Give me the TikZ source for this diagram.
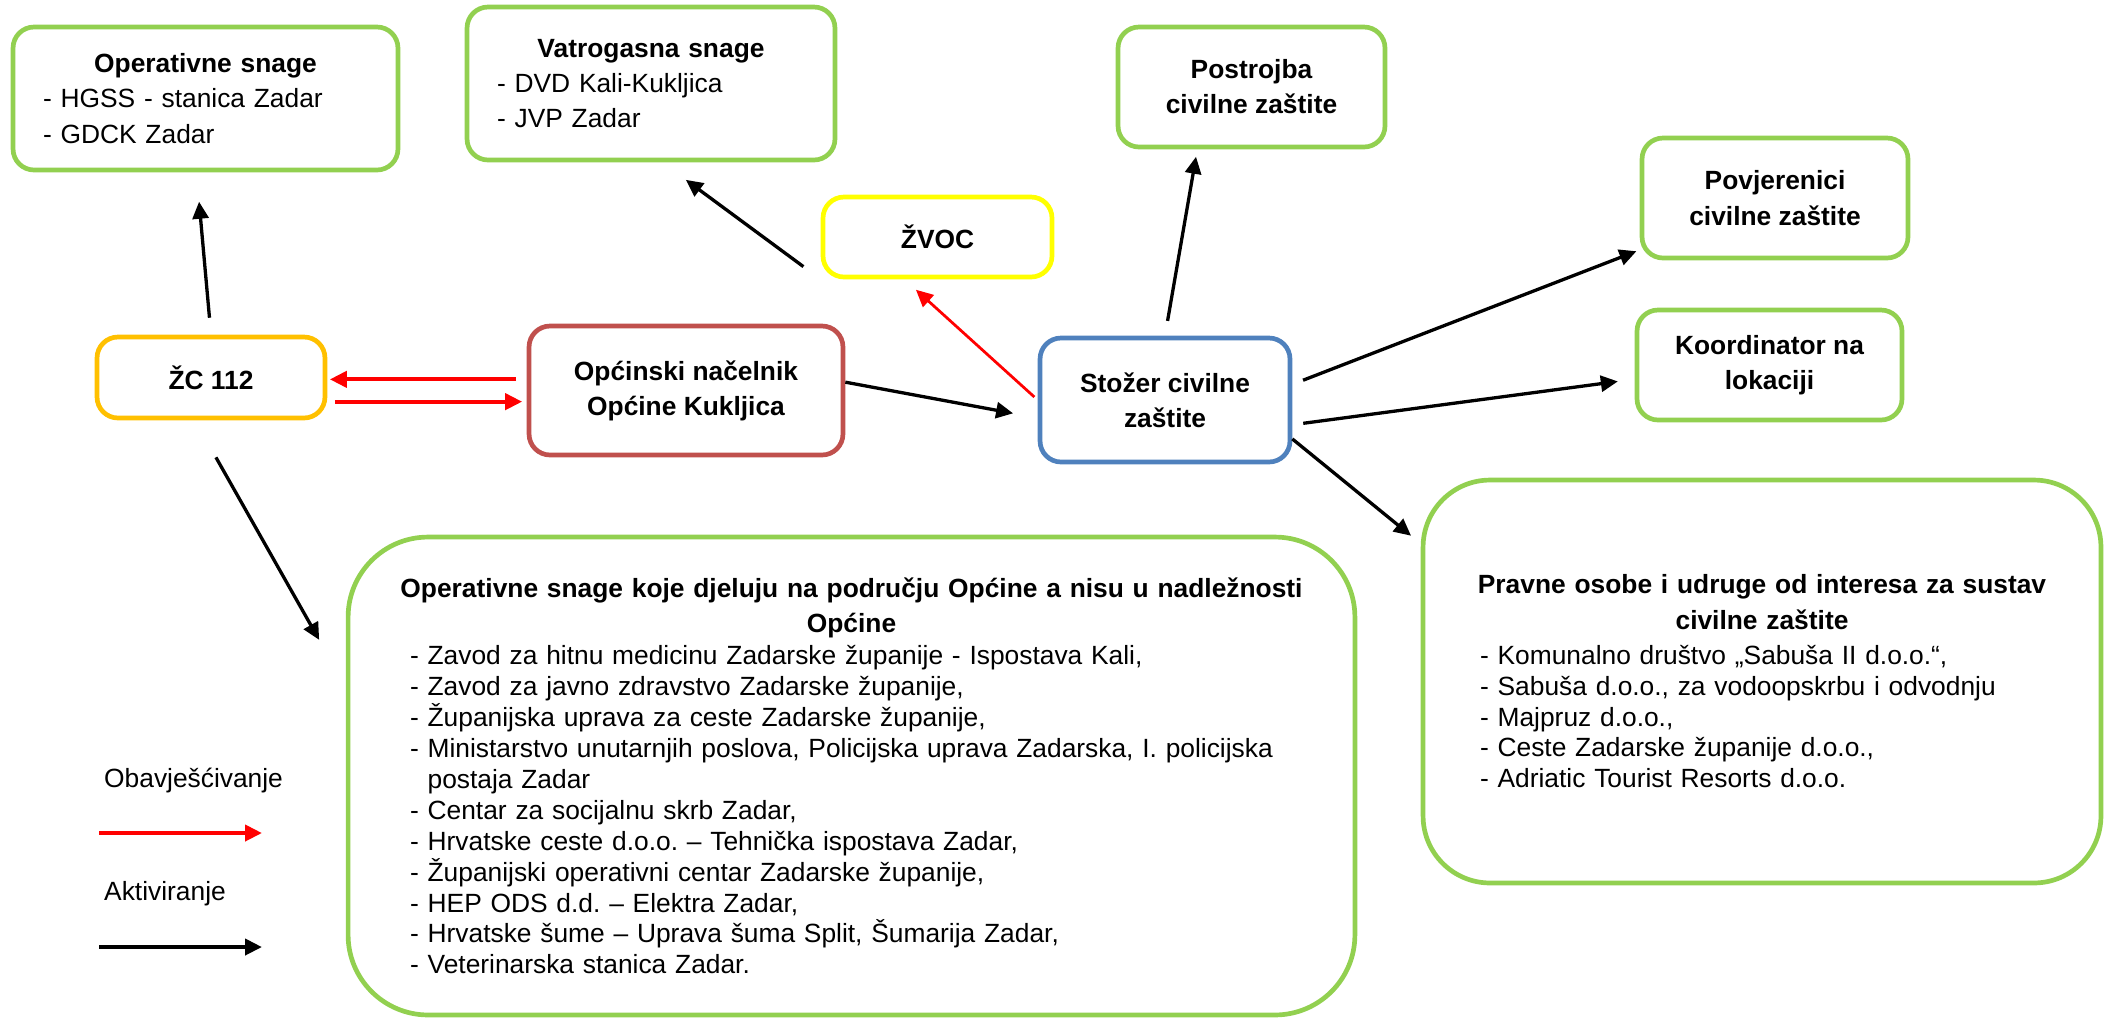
\documentclass[tikz,border=0pt]{standalone}
\usepackage{fontspec}
\setmainfont{Liberation Sans}
\usepackage{xcolor}
\usepackage{tikz}
\usetikzlibrary{arrows.meta}
\setlength{\parindent}{0pt}
\frenchspacing

\definecolor{zelena}{HTML}{92D050}
\definecolor{narancasta}{HTML}{FFC000}
\definecolor{zuta}{HTML}{FFFF00}
\definecolor{bordo}{HTML}{C0504D}
\definecolor{plava}{HTML}{4F81BD}
\definecolor{crvena}{HTML}{FF0000}

\tikzset{
    box/.style={draw=zelena, line width=0.094cm, rounded corners=0.42cm, fill=white,
        inner sep=0pt, align=center, font=\fontsize{15}{20}\selectfont\bfseries},
    listbox/.style={box, align=left, font=\fontsize{15}{20}\selectfont},
    act/.style={-{Triangle[length=0.34cm,width=0.32cm]}, line width=0.066cm, black},
    inf/.style={act, crvena, line width=0.08cm},
}

\begin{document}
\begin{tikzpicture}[x=0.02cm, y=-0.02cm]
            \useasboundingbox (0,0) rectangle (2105,1019);

            % Gornji red
            \node[listbox, minimum width=7.7cm, minimum height=2.86cm, text width=6.5cm] (opsnage) at (205.5,98.5)
                {{\centering\bfseries Operativne snage\par}- HGSS - stanica Zadar\\- GDCK Zadar\par};
            \node[listbox, minimum width=7.36cm, minimum height=3.06cm, text width=6.16cm] (vatro) at (651,83.5)
                {{\centering\bfseries Vatrogasna snage\par}- DVD Kali-Kukljica\\- JVP Zadar\par};
            \node[box, minimum width=5.34cm, minimum height=2.4cm] (postrojba) at (1251.5,87) {Postrojba\\civilne zaštite};
            \node[box, minimum width=5.32cm, minimum height=2.4cm] (povjerenici) at (1775,198) {Povjerenici\\civilne zaštite};
            \node[box, minimum width=5.3cm, minimum height=2.2cm] (koordinator) at (1769.5,365) {Koordinator na\\lokaciji};
            \node[box, draw=zuta, minimum width=4.58cm, minimum height=1.6cm] (zvoc) at (937.5,237) {ŽVOC};

            % Srednji red
            \node[box, draw=narancasta, minimum width=4.56cm, minimum height=1.62cm] (zc) at (211,377.5) {ŽC 112};
            \node[box, draw=bordo, minimum width=6.28cm, minimum height=2.58cm] (nacelnik) at (686,390.5) {Općinski načelnik\\Općine Kukljica};
            \node[box, draw=plava, minimum width=5cm, minimum height=2.48cm] (stozer) at (1165,400) {Stožer civilne\\zaštite};

            % Donji okviri
            \node[listbox, rounded corners=1.6cm, minimum width=20.14cm, minimum height=9.56cm, text width=17.66cm] (opcina) at (851.5,776)
                {\fontsize{15}{17.6}\selectfont
                 \makebox[\linewidth]{\bfseries Operativne snage koje djeluju na području Općine a nisu u nadležnosti}\\[2.4pt]
                 \makebox[\linewidth]{\bfseries Općine}\\[0.6pt]
                 - Zavod za hitnu medicinu Zadarske županije - Ispostava Kali,\\
                 - Zavod za javno zdravstvo Zadarske županije,\\
                 - Županijska uprava za ceste Zadarske županije,\\
                 - Ministarstvo unutarnjih poslova, Policijska uprava Zadarska, I. policijska\\
                 \phantom{- }postaja Zadar\\
                 - Centar za socijalnu skrb Zadar,\\
                 - Hrvatske ceste d.o.o. – Tehnička ispostava Zadar,\\
                 - Županijski operativni centar Zadarske županije,\\
                 - HEP ODS d.d. – Elektra Zadar,\\
                 - Hrvatske šume – Uprava šuma Split, Šumarija Zadar,\\
                 - Veterinarska stanica Zadar.\par};
            \node[listbox, rounded corners=1.34cm, minimum width=13.56cm, minimum height=8.06cm, text width=11.28cm] (pravne) at (1762,681.5)
                {\fontsize{15}{17.6}\selectfont
                 \makebox[\linewidth]{\bfseries Pravne osobe i udruge od interesa za sustav}\\[2.4pt]
                 \makebox[\linewidth]{\bfseries civilne zaštite}\\[2.4pt]
                 - Komunalno društvo „Sabuša II d.o.o.“,\\
                 - Sabuša d.o.o., za vodoopskrbu i odvodnju\\
                 - Majpruz d.o.o.,\\
                 - Ceste Zadarske županije d.o.o.,\\
                 - Adriatic Tourist Resorts d.o.o.\par};

            % Obavjescivanje
            \draw[inf, shorten <=0.21cm, shorten >=0.05cm] (nacelnik.176) -- (nacelnik.176 -| zc.east);
            \draw[inf, shorten <=0.15cm, shorten >=0.09cm] (nacelnik.184 -| zc.east) -- (nacelnik.184);
            \draw[inf, line width=0.055cm, shorten <=0.09cm, shorten >=0.31cm] (stozer.west) -- (zvoc.232);

            % Aktiviranje
            \draw[act, shorten <=0.34cm, shorten >=0.59cm] (zc.north) -- (opsnage.263);
            \draw[act, shorten <=0.85cm, shorten >=1.08cm] ([xshift=-0.32cm]zc.south) -- (opcina.170);
            \draw[act, shorten >=0.5cm] (nacelnik.3) -- (stozer.188);
            \draw[act, shorten <=0.43cm, shorten >=0.59cm] (zvoc.south west) -- (vatro.-82);
            \draw[act, shorten <=0.3cm, shorten >=0.15cm] (stozer.north) -- (postrojba.229);
            \draw[act, shorten <=0.23cm, shorten >=0.07cm] (stozer.7) -- (povjerenici.201);
            \draw[act, shorten <=0.22cm, shorten >=0.34cm] (stozer.-11) -- (koordinator.186);
            \draw[act, shorten >=0.25cm] (stozer.-17) -- (pravne.158);

            % Legenda
            \node[anchor=base west, font=\fontsize{15}{20}\selectfont] (obav) at (98,787) {Obavješćivanje};
            \node[anchor=base west, font=\fontsize{15}{20}\selectfont] (aktiv) at (98,900) {Aktiviranje};
            \coordinate (obav-a) at (99,833);
            \coordinate (obav-b) at (262,833);
            \coordinate (aktiv-a) at (99,947);
            \coordinate (aktiv-b) at (262,947);
            \draw[inf] (obav-a) -- (obav-b);
            \draw[act, line width=0.08cm] (aktiv-a) -- (aktiv-b);
        \end{tikzpicture}
\end{document}
